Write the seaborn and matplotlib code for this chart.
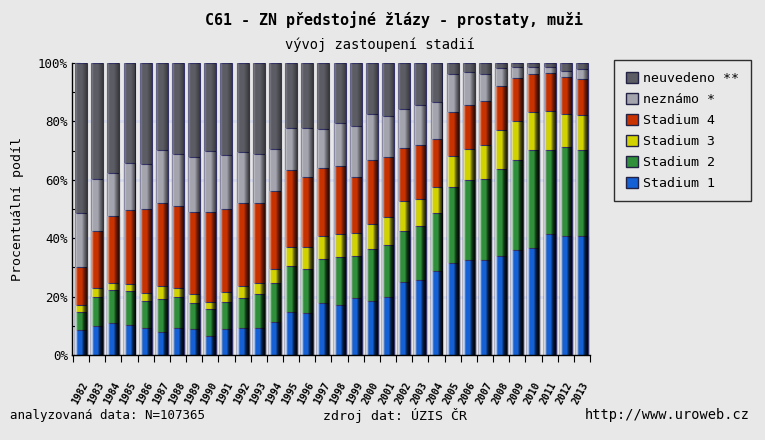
import matplotlib
matplotlib.use("Agg")
import matplotlib.pyplot as plt
from matplotlib.patches import Patch
import numpy as np
import pandas as pd
import seaborn as sns

years = [str(y) for y in range(1982, 2014)]
stadium1 = [8.6, 9.9, 10.9, 10.3, 9.4, 8.0, 9.4, 8.9, 6.5, 8.9, 9.4, 9.4, 11.4, 14.6, 14.3, 17.7,
            17.1, 19.4, 18.6, 20.0, 25.1, 25.7, 28.6, 31.4, 32.6, 32.6, 33.9, 35.8, 36.8, 41.5, 40.6, 40.6]
stadium2 = [6.0, 9.9, 11.4, 11.6, 9.1, 11.1, 10.6, 8.8, 9.2, 9.2, 10.0, 11.4, 13.2, 15.9, 15.2, 15.2,
            16.4, 14.5, 17.7, 17.7, 17.4, 18.6, 20.0, 26.0, 27.2, 27.6, 29.8, 31.1, 33.5, 28.8, 30.6, 29.7]
stadium3 = [2.5, 3.1, 2.3, 2.3, 2.9, 4.7, 2.9, 3.1, 2.6, 3.6, 4.4, 3.8, 4.9, 6.6, 7.6, 7.7,
            8.0, 8.0, 8.6, 9.5, 10.1, 9.2, 9.1, 10.9, 10.8, 11.6, 13.2, 13.4, 12.9, 13.4, 11.4, 12.0]
stadium4 = [13.2, 19.4, 23.1, 25.5, 28.7, 28.2, 28.2, 28.3, 30.8, 28.4, 28.2, 27.4, 26.8, 26.3, 24.0, 23.4,
            23.1, 19.2, 22.0, 20.6, 18.3, 18.3, 16.4, 14.9, 15.1, 15.3, 15.1, 14.6, 13.0, 12.9, 12.6, 12.3]
neznamo = [18.3, 17.9, 14.6, 16.2, 15.4, 18.3, 17.8, 18.7, 20.6, 18.5, 17.4, 16.9, 14.3, 14.5, 16.8, 13.5,
           14.8, 17.4, 15.7, 13.9, 13.3, 13.9, 12.5, 13.0, 11.2, 9.1, 6.3, 3.7, 2.4, 2.0, 1.9, 3.5]
neuvedeno = [51.4, 39.8, 37.7, 34.1, 34.5, 29.7, 31.1, 32.2, 30.3, 31.4, 30.6, 31.1, 29.4, 22.1, 22.1, 22.5,
             20.6, 21.5, 17.4, 18.3, 15.8, 14.3, 13.4, 3.8, 3.1, 3.8, 1.7, 1.4, 1.4, 1.4, 2.9, 1.9]

series = ["Stadium 1", "Stadium 2", "Stadium 3", "Stadium 4", "neznámo *", "neuvedeno **"]
colors = ["#1560d4", "#2f8f3a", "#d2d200", "#c83200", "#a4a4ae", "#5c5c64"]

df = pd.DataFrame({"rok": years, "Stadium 1": stadium1, "Stadium 2": stadium2, "Stadium 3": stadium3,
                   "Stadium 4": stadium4, "neznámo *": neznamo, "neuvedeno **": neuvedeno})
cum = df[series].cumsum(axis=1)

bg = "#e8e8e8"
mono = ["DejaVu Sans Mono"]
fig = plt.figure(figsize=(7.65, 4.4), dpi=100, facecolor=bg)
ax = fig.add_axes([72 / 765, 1 - 355 / 440, 518 / 765, 292 / 440])
ax.set_facecolor(bg)

for y in [20, 40, 60, 80]:
    ax.axhline(y, color="#d8dcec", lw=2, zorder=0)

# stacked bars: draw the cumulative totals from the top series down
for s, c in reversed(list(zip(series, colors))):
    sns.barplot(x=df["rok"], y=cum[s], color=c, width=0.74, saturation=1,
                edgecolor="#333366", linewidth=0.8, ax=ax, zorder=2)

# cylinder-like shading on each bar
shade = np.concatenate([np.linspace(0.25, 0.0, 4), np.linspace(0.0, 0.0, 3), np.linspace(0.0, -0.35, 6)])
shade_img = np.zeros((1, len(shade), 4))
shade_img[0, :, :3] = np.where(shade[:, None] > 0, 1.0, 0.0)
shade_img[0, :, 3] = np.abs(shade)
for p in list(ax.patches):
    x0, y0 = p.get_x(), p.get_y()
    im = ax.imshow(shade_img, extent=[x0, x0 + p.get_width(), y0, y0 + p.get_height()],
                   aspect="auto", zorder=2.5, interpolation="bilinear")
    im.set_clip_path(p)

ax.set_xlim(-0.56, 31.5)
ax.set_ylim(0, 100)
ax.set_xlabel("")
ax.set_ylabel("Procentuální podíl", family=mono, fontsize=9.5, labelpad=10)

ax.set_yticks(range(0, 101, 20))
ax.set_yticklabels([f"{v}%" for v in range(0, 101, 20)], family=mono, fontsize=9)
ax.set_yticks(range(0, 101, 10), minor=True)
ax.tick_params(axis="y", which="both", direction="in", length=6, width=0.8, pad=3)

ax.set_xticks(np.arange(-0.5, 31.6, 1))
ax.set_xticklabels([])
ax.tick_params(axis="x", which="major", direction="out", length=5, width=0.8)
ax.set_xticks(range(len(years)), minor=True)
ax.set_xticklabels(years, minor=True, rotation=62, ha="right", va="top", rotation_mode="anchor",
                   family=mono, fontsize=7, fontweight="bold")
ax.tick_params(axis="x", which="minor", length=0, pad=18)

for side in ["top", "right"]:
    ax.spines[side].set_visible(False)
for side in ["left", "bottom"]:
    ax.spines[side].set_color("black")
    ax.spines[side].set_linewidth(1)

fig.text(0.515, 1 - 20 / 440, "C61 - ZN předstojné žlázy - prostaty, muži", ha="center", va="center",
         family=mono, fontsize=10.8, fontweight="bold")
fig.text(0.497, 1 - 45 / 440, "vývoj zastoupení stadií", ha="center", va="center", family=mono, fontsize=9.9)

handles = [Patch(facecolor=c, edgecolor="#222244", label=s)
           for s, c in reversed(list(zip(series, colors)))]
leg = fig.legend(handles=handles, loc="upper left", bbox_to_anchor=(614 / 765, 1 - 60 / 440),
                 borderaxespad=0, frameon=True, fancybox=False, shadow=False,
                 handlelength=0.9, handleheight=0.9, handletextpad=0.4, labelspacing=0.6,
                 borderpad=0.9, prop={"family": mono, "size": 9.5})
leg.get_frame().set_facecolor(bg)
leg.get_frame().set_edgecolor("black")
leg.get_frame().set_linewidth(1)

fig.text(10 / 765, 1 - 415 / 440, "analyzovaná data: N=107365", ha="left", va="center", family=mono, fontsize=9)
fig.text(395 / 765, 1 - 415 / 440, "zdroj dat: ÚZIS ČR", ha="center", va="center", family=mono, fontsize=9.5)
fig.text(750 / 765, 1 - 415 / 440, "http://www.uroweb.cz", ha="right", va="center", family=mono, fontsize=9.8)

fig.savefig("out.png", dpi=100, facecolor=bg)
